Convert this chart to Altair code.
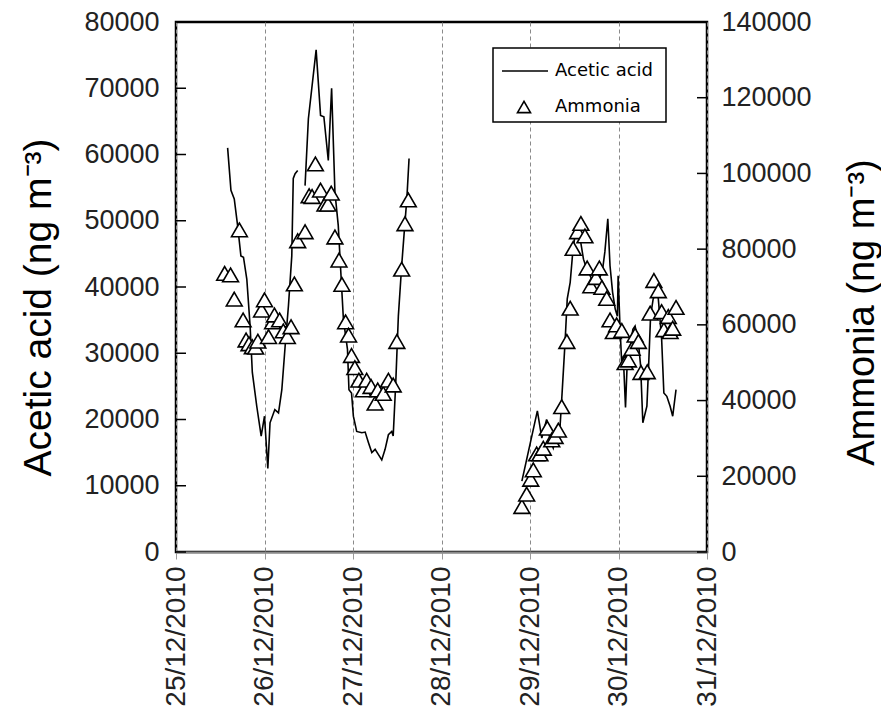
import altair as alt
import pandas as pd

# ---------------- data ----------------
day_labels = ["25/12/2010", "26/12/2010", "27/12/2010", "28/12/2010",
              "29/12/2010", "30/12/2010", "31/12/2010"]
day_hours = [0, 24, 48, 72, 96, 120, 144]          # hours since 25/12/2010 00:00
acetic_ticks = [0, 10000, 20000, 30000, 40000, 50000, 60000, 70000, 80000]
ammonia_ticks = [0, 20000, 40000, 60000, 80000, 100000, 120000, 140000]

# Acetic acid (line), three continuous stretches
acetic_h1 = [14.0, 14.9, 15.8, 16.7, 17.6, 18.3, 19.2, 20.1, 20.7, 21.9, 23.1, 24.0,
             24.9, 25.5, 26.8, 27.8, 28.7, 29.6, 30.5, 31.4, 31.8, 32.3, 33.0]
acetic_v1 = [61000, 54600, 53300, 49300, 44700, 44500, 41200, 34100, 27100, 22000, 17500, 20500,
             12600, 19500, 21500, 21000, 24500, 31100, 37200, 44700, 56400, 57100, 57600]

acetic_h2 = [35.0, 35.9, 38.0, 39.2, 40.1, 41.3, 42.2, 43.1, 44.0, 44.7, 45.4, 46.5, 46.9,
             47.6, 48.1, 49.0, 50.4, 51.3, 52.2, 53.1, 54.0, 54.9, 55.8, 56.7, 57.6, 58.5,
             58.9, 59.6, 60.3, 61.2, 62.1, 62.6, 63.2]
acetic_v2 = [55300, 65400, 75800, 65900, 65700, 59100, 70000, 54300, 49300, 42200, 35100, 30600, 24500,
             24000, 20500, 18200, 18000, 18100, 16500, 15000, 15500, 14700, 13900, 15500, 17700, 18200,
             17500, 25600, 35600, 43200, 49800, 53300, 59400]

acetic_h3 = [93.8, 98.0, 99.2, 100.5, 101.4, 102.3, 103.2, 104.1, 104.6, 105.5, 106.1, 106.9,
             107.6, 108.2, 109.1, 109.6, 110.5, 111.4, 112.3, 113.2, 114.1, 114.8, 115.7, 116.3,
             117.1, 117.7, 118.4, 119.1, 119.7, 119.9, 120.4, 120.9, 121.3, 121.9, 122.4, 123.1,
             123.9, 124.5, 125.4, 126.0, 126.6, 127.7, 128.1, 128.7, 129.4, 130.4, 130.8, 131.7,
             132.3, 133.1, 134.0, 134.7, 135.6]
acetic_v3 = [10700, 21300, 17200, 20000, 17000, 15700, 17700, 18500, 23000, 31600, 38200, 40700,
             45300, 47800, 48000, 47300, 44200, 42700, 41700, 40700, 42000, 41200, 42700, 45300,
             50300, 43200, 39200, 36700, 35600, 41700, 34100, 28100, 29600, 21800, 29100, 30600,
             33600, 34100, 31600, 28100, 19500, 22000, 27100, 35600, 38200, 39200, 38200, 32100,
             24000, 23500, 22000, 20500, 24500]

# Ammonia (triangles)
ammonia_h1 = [13.2, 14.8, 15.8, 17.2, 18.2, 19.0, 19.8, 20.7, 21.6, 22.2, 23.2, 24.0, 25.1,
              26.2, 26.7, 28.1, 29.1, 30.2, 31.2, 32.1, 33.0, 35.0, 36.1, 36.9, 37.8, 39.2,
              40.4, 41.2, 42.1, 43.1, 44.2, 45.0, 46.0, 46.8, 47.6, 48.5, 49.6, 50.8, 51.7,
              52.9, 54.0, 54.7, 56.2, 57.6, 58.9, 59.9, 61.2, 62.1, 63.0]
ammonia_v1 = [73600, 73200, 66800, 85100, 61300, 56000, 55000, 54200, 54100, 55700, 63900, 66600, 56900,
              60800, 62600, 61300, 58400, 56900, 59500, 70800, 82200, 84600, 94100, 93900, 102500, 95600,
              91900, 91900, 94800, 83200, 77100, 70700, 60800, 57300, 51900, 48700, 45400, 42800, 45400,
              43700, 39300, 42800, 41900, 45400, 44100, 55600, 74700, 86700, 93000]

ammonia_h2 = [93.8, 95.1, 96.2, 96.9, 97.8, 98.7, 99.6, 100.7, 101.9, 102.8, 103.7, 104.6,
              106.0, 106.9, 107.7, 108.9, 109.8, 110.9, 111.5, 112.5, 113.9, 114.8, 115.5,
              116.8, 117.7, 118.6, 119.5, 120.9, 121.8, 122.7, 123.7, 124.5, 125.4, 126.1,
              127.8, 128.6, 129.6, 130.8, 131.7, 132.3, 133.5, 134.0, 134.7, 135.6]
ammonia_v2 = [12000, 15300, 19200, 21700, 25900, 25900, 27400, 32700, 29600, 30500, 32200, 38400,
              55600, 64400, 80200, 84600, 86800, 83500, 75000, 70300, 72500, 75000, 69900,
              67000, 61300, 58200, 60000, 58500, 50000, 50700, 53800, 57300, 55600, 47400,
              47600, 63100, 71700, 69000, 63500, 58700, 62200, 58200, 59100, 64600]

series_names = ["Acetic acid", "Ammonia"]

# ---------------- tables ----------------
acetic = pd.DataFrame({
    "hours": acetic_h1 + acetic_h2 + acetic_h3,
    "acetic": acetic_v1 + acetic_v2 + acetic_v3,
    "segment": [1] * len(acetic_h1) + [2] * len(acetic_h2) + [3] * len(acetic_h3),
})
ammonia = pd.DataFrame({"hours": ammonia_h1 + ammonia_h2, "ammonia": ammonia_v1 + ammonia_v2})
left_ticks = pd.DataFrame({"v": acetic_ticks})
right_ticks = pd.DataFrame({"v": ammonia_ticks})
one = pd.DataFrame({"k": [0]})

FONT = "Liberation Sans"
W, H = 531, 530

label_expr = "[" + ",".join(f"'{d}'" for d in day_labels) + "][round(datum.value / 24)]"

x_enc = alt.X(
    "hours:Q",
    scale=alt.Scale(domain=[0, 144], nice=False, zero=False),
    axis=alt.Axis(values=day_hours, labelExpr=label_expr, labelAngle=-90, title=None,
                  grid=True, gridDash=[4, 3], gridColor="#8a8a8a", gridWidth=1,
                  domainColor="#8a8a8a", domainWidth=2, tickColor="#9a9a9a", tickSize=7,
                  labelFontSize=28, labelFont=FONT, labelColor="#222222", labelPadding=7),
)

line = alt.Chart(acetic).mark_line(color="black", strokeWidth=1.6).encode(
    x=x_enc,
    y=alt.Y("acetic:Q", scale=alt.Scale(domain=[0, 80000], nice=False),
            axis=alt.Axis(orient="left", values=acetic_ticks, format="d", tickSize=0,
                          labelPadding=17, labelFontSize=27, labelFont=FONT, labelColor="#222222",
                          domain=False, grid=False,
                          title="Acetic acid (ng m⁻³)", titleFont=FONT, titleFontSize=39,
                          titleFontWeight="normal", titleColor="black", titleAngle=-90,
                          titleX=-138, titleY=H / 2 + 20, titleAlign="center", titleBaseline="middle")),
    detail="segment:N",
)

points = alt.Chart(ammonia).mark_point(
    shape="triangle-up", size=250, filled=True, fill="white", stroke="black",
    strokeWidth=1.6, opacity=1
).encode(
    x=alt.X("hours:Q", scale=alt.Scale(domain=[0, 144], nice=False, zero=False)),
    y=alt.Y("ammonia:Q", scale=alt.Scale(domain=[0, 140000], nice=False),
            axis=alt.Axis(orient="right", values=ammonia_ticks, format="d", tickSize=0,
                          labelPadding=14, labelFontSize=27, labelFont=FONT, labelColor="#222222",
                          domain=False, grid=False,
                          title="Ammonia (ng m⁻³)", titleFont=FONT, titleFontSize=38,
                          titleFontWeight="normal", titleColor="black", titleAngle=-90,
                          titleX=155, titleY=H / 2 + 25, titleAlign="center", titleBaseline="middle")),
)

lt = alt.Chart(left_ticks).mark_rule(color="black", strokeWidth=1.5).encode(
    y=alt.Y("v:Q", scale=alt.Scale(domain=[0, 80000], nice=False), axis=None),
    x=alt.value(0), x2=alt.value(10),
)
rt = alt.Chart(right_ticks).mark_rule(color="black", strokeWidth=1.5).encode(
    y=alt.Y("v:Q", scale=alt.Scale(domain=[0, 140000], nice=False), axis=None),
    x=alt.value(W - 10), x2=alt.value(W),
)

# legend box
leg_box = alt.Chart(one).mark_rect(fill="white", stroke="black", strokeWidth=1.5).encode(
    x=alt.value(317), x2=alt.value(490), y=alt.value(26), y2=alt.value(100))
leg_line = alt.Chart(one).mark_rule(color="black", strokeWidth=1.6).encode(
    x=alt.value(326), x2=alt.value(372), y=alt.value(49))
leg_tri = alt.Chart(one).mark_point(shape="triangle-up", size=170, filled=True, fill="white",
                                    stroke="black", strokeWidth=1.6, opacity=1).encode(
    x=alt.value(348), y=alt.value(85))
leg_t1 = alt.Chart(one).mark_text(align="left", baseline="middle", font="DejaVu Sans",
                                  fontSize=18, color="black").encode(
    x=alt.value(379), y=alt.value(49), text=alt.value(series_names[0]))
leg_t2 = alt.Chart(one).mark_text(align="left", baseline="middle", font="DejaVu Sans",
                                  fontSize=18, color="black").encode(
    x=alt.value(379), y=alt.value(85), text=alt.value(series_names[1]))

chart = alt.layer(
    line, points, lt, rt, leg_box, leg_line, leg_tri, leg_t1, leg_t2
).resolve_scale(y="independent").properties(
    width=W, height=H,
    autosize=alt.AutoSizeParams(type="none"),
    padding={"left": 168, "top": 14, "right": 174, "bottom": 155},
    background="white",
).configure_view(stroke="black", strokeWidth=2.5)

chart.save("out.html", embed_options={"renderer": "svg", "actions": False})
